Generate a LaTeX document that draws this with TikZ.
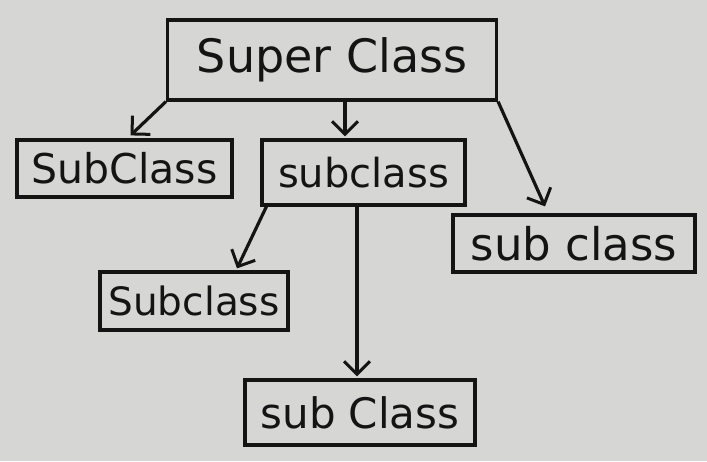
\documentclass[tikz,border=0pt]{standalone}
\usepackage{fontspec}
\setmainfont{DejaVu Sans}
\usetikzlibrary{arrows.meta}
\definecolor{paper}{RGB}{214,214,212}
\definecolor{ink}{RGB}{20,20,20}
\tikzset{
  classbox/.style={draw=ink, line width=3.2pt, inner sep=0pt, text=ink, font=\fontsize{40}{44}\selectfont},
  link/.style={draw=ink, line width=3.2pt, -{Straight Barb[length=13pt,width=26pt,line width=3pt]}}
}
\begin{document}
\begin{tikzpicture}[x=1pt,y=-1pt]
\fill[paper] (0,0) rectangle (707,461);
\useasboundingbox (0,0) rectangle (707,461);
\node[classbox, minimum width=329pt, minimum height=80pt, font=\fontsize{46}{50}\selectfont] (super) at (332,60) {Super Class};
\node[classbox, minimum width=215pt, minimum height=57pt, font=\fontsize{41}{44}\selectfont] (left) at (124.5,168.5) {SubClass};
\node[classbox, minimum width=203pt, minimum height=65pt] (mid) at (363.5,172.5) {subclass};
\node[classbox, minimum width=242pt, minimum height=57pt, font=\fontsize{45}{48}\selectfont] (right) at (574,243.5) {sub class};
\node[classbox, minimum width=188pt, minimum height=58pt, font=\fontsize{39}{42}\selectfont] (low) at (194,301) {Subclass};
\node[classbox, minimum width=230pt, minimum height=65pt, font=\fontsize{42}{45}\selectfont] (bottom) at (360,412.5) {sub Class};
\draw[link] (super.south west) -- ([xshift=6pt,yshift=3pt]left.north);
\draw[link] ([xshift=13pt]super.south) -- ([xshift=-18.5pt,yshift=2pt]mid.north);
\draw[link] (super.south east) -- ([xshift=-29pt,yshift=7pt]right.north);
\draw[link] ([xshift=6pt]mid.south west) -- ([xshift=43pt,yshift=2pt]low.north);
\draw[link] ([xshift=-6.5pt]mid.south) -- ([xshift=-3pt,yshift=2pt]bottom.north);
\end{tikzpicture}
\end{document}
